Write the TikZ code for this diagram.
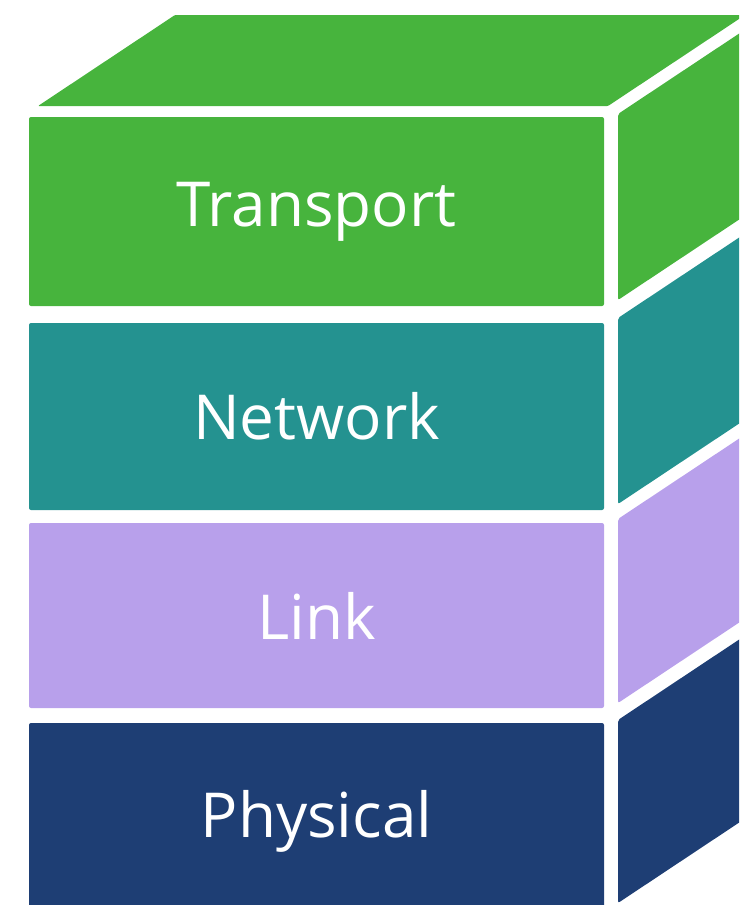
\documentclass[tikz,border=0pt]{standalone}
\usepackage{fontspec}
\setmainfont{Open Sans}
\definecolor{tgreen}{HTML}{47B43D}
\definecolor{nteal}{HTML}{249290}
\definecolor{llav}{HTML}{B8A0EB}
\definecolor{pnavy}{HTML}{1E3E74}
\begin{document}
\begin{tikzpicture}[x=1pt,y=-1pt]
\tikzstyle{ly} = [rectangle,rounded corners=2pt,inner sep=0pt,minimum width=575pt,text=white,font=\fontsize{62}{70}\selectfont] %front layer
\tikzstyle{sd} = [rounded corners=2pt] %side face
\useasboundingbox (0,0) rectangle (739,905);
\clip (0,0) rectangle (739,905);
% top face
\fill[tgreen,rounded corners=1pt](38,106)--(608,106)--(745,15)--(175,15)--cycle;
% front layers
\node[ly,fill=tgreen,minimum height=189pt](tr)at(316.5,211.5){Transport};
\node[ly,fill=nteal,minimum height=187pt](nw)at(316.5,416.5){Network};
\node[ly,fill=llav,minimum height=185pt](lk)at(316.5,615.5){Link};
\node[ly,fill=pnavy,minimum height=196pt](ph)at(316.5,821){Physical};
% side faces
\fill[sd,tgreen](618,114)--(618,300)--++(137,-91)--++(0,-186)--cycle;
\fill[sd,nteal](618,318)--(618,504)--++(137,-91)--++(0,-186)--cycle;
\fill[sd,llav](618,519)--(618,703)--++(137,-91)--++(0,-184)--cycle;
\fill[sd,pnavy](618,720)--(618,903)--++(137,-91)--++(0,-183)--cycle;
\end{tikzpicture}
\end{document}
